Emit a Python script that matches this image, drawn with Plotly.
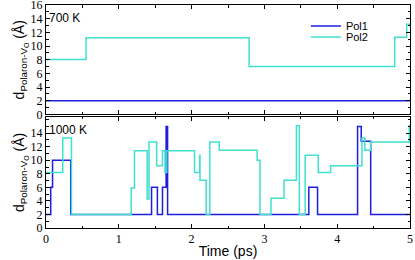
import plotly.graph_objects as go

# Top panel (700 K)
t700_pol1 = [0, 5]
d700_pol1 = [2, 2]
t700_pol2 = [0, 0.55, 2.79, 4.79, 4.955, 5]
d700_pol2 = [8.05, 11.2, 7.0, 11.3, 13.2, 13.2]

# Bottom panel (1000 K)
t1000_pol1 = [0, 0.065, 0.09, 0.34, 1.45, 1.53, 1.6, 1.65, 1.67, 3.61, 3.73, 4.28, 4.33, 4.46, 5.0]
d1000_pol1 = [2, 6, 10, 2, 6, 2, 6, 15, 2, 6, 2, 15, 12.8, 2, 2]
t1000_pol2 = [0, 0.23, 0.35, 1.17, 1.215, 1.39, 1.415, 1.52, 1.6, 1.635, 1.66, 2.04, 2.11, 2.115,
              2.2, 2.25, 2.38, 2.9, 2.94, 3.09, 3.27, 3.44, 3.48, 3.56, 3.74, 3.91, 4.34, 4.38,
              4.46, 4.99, 5.0]
d1000_pol2 = [8.2, 13.3, 2, 5.9, 11.4, 4.3, 12.7, 9.2, 11.4, 8.2, 11.4, 8.2, 10.75, 7.05,
              2, 12.7, 11.5, 10.0, 2, 4.4, 7.05, 15.1, 2, 10.75, 8.2, 9.2, 13.3, 11.5,
              12.7, 15.1, 15.1]

x_ticks = [0, 1, 2, 3, 4, 5]
y_ticks_top = [0, 2, 4, 6, 8, 10, 12, 14, 16]
y_ticks_bot = [0, 2, 4, 6, 8, 10, 12, 14]

C1 = "#1e1ee0"
C2 = "#40e0d0"

fig = go.Figure()
fig.add_trace(go.Scatter(x=t700_pol1, y=d700_pol1, mode="lines", line=dict(color=C1, width=1.5, shape="hv"),
                         name="Pol1", xaxis="x2", yaxis="y2", legendgroup="p1", legend="legend"))
fig.add_trace(go.Scatter(x=t700_pol2, y=d700_pol2, mode="lines", line=dict(color=C2, width=1.5, shape="hv"),
                         name="Pol2", xaxis="x2", yaxis="y2", legendgroup="p2", legend="legend2"))
fig.add_trace(go.Scatter(x=t1000_pol1, y=d1000_pol1, mode="lines", line=dict(color=C1, width=1.5, shape="hv"),
                         name="Pol1", xaxis="x", yaxis="y", legendgroup="p1", showlegend=False))
fig.add_trace(go.Scatter(x=t1000_pol2, y=d1000_pol2, mode="lines", line=dict(color=C2, width=1.5, shape="hv"),
                         name="Pol2", xaxis="x", yaxis="y", legendgroup="p2", showlegend=False))

serif = "Liberation Serif, Times New Roman, serif"
sans = "Liberation Sans, Arial, sans-serif"
tickfont = dict(family=serif, size=12, color="black")
ytitle = dict(text="d<sub>Polaron-V<sub>O</sub></sub> (Å)", font=dict(family=sans, size=14, color="black"), standoff=2)

common_x = dict(range=[0, 5], showline=True, linecolor="black", linewidth=1, mirror="allticks",
                ticks="inside", ticklen=4, tickcolor="black", tickvals=x_ticks, showgrid=False, zeroline=False,
                automargin=False, ticklabeloverflow="allow",
                minor=dict(dtick=0.5, ticks="inside", ticklen=2.5, tickcolor="black"))
common_y = dict(showline=True, linecolor="black", linewidth=1, mirror="allticks",
                ticks="inside", ticklen=4, tickcolor="black", showgrid=False, zeroline=False,
                automargin=False, ticklabelstandoff=0, ticklabeloverflow="allow",
                minor=dict(dtick=1, ticks="inside", ticklen=2.5, tickcolor="black"), tickfont=tickfont)

legfont = dict(family=sans, size=11, color="black")
fig.update_layout(
    width=415, height=260,
    margin=dict(l=46, r=5, t=5, b=32),
    plot_bgcolor="white", paper_bgcolor="white",
    showlegend=True,
    legend=dict(x=0.714, y=0.906, xanchor="left", yanchor="middle", bgcolor="rgba(0,0,0,0)",
                font=legfont, itemwidth=30),
    legend2=dict(x=0.714, y=0.857, xanchor="left", yanchor="middle", bgcolor="rgba(0,0,0,0)",
                 font=legfont, itemwidth=30),
    xaxis=dict(**common_x, anchor="y", tickfont=tickfont, ticklabelstandoff=0,
               title=dict(text="Time (ps)", font=dict(family=sans, size=14, color="black"), standoff=0)),
    xaxis2=dict(**common_x, anchor="y2", matches="x", showticklabels=False),
    yaxis=dict(**common_y, domain=[0, 0.498], range=[0, 16.4], tickvals=y_ticks_bot, title=ytitle),
    yaxis2=dict(**common_y, domain=[0.509, 1], range=[0, 16], tickvals=y_ticks_top, anchor="x2", title=ytitle),
    annotations=[
        dict(text="700 K", x=0.003, y=0.98, xref="paper", yref="paper", xanchor="left", yanchor="top",
             showarrow=False, font=dict(family=sans, size=12, color="black")),
        dict(text="1000 K", x=0.003, y=0.48, xref="paper", yref="paper", xanchor="left", yanchor="top",
             showarrow=False, font=dict(family=sans, size=12, color="black")),
    ],
)

fig.write_html("out.html", config={"displayModeBar": False},
               post_script="document.body.style.margin='0';document.body.style.overflow='hidden';")
